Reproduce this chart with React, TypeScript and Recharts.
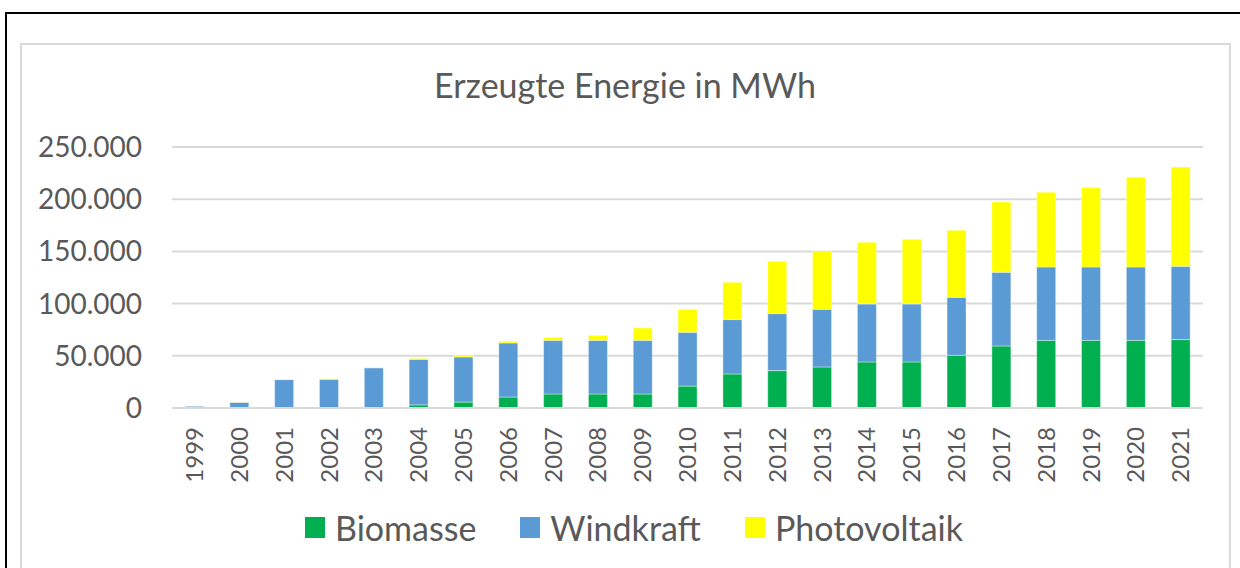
import { Bar, BarChart, CartesianGrid, Legend, XAxis, YAxis } from "recharts";

const years = [
  "1999", "2000", "2001", "2002", "2003", "2004", "2005", "2006", "2007", "2008", "2009", "2010",
  "2011", "2012", "2013", "2014", "2015", "2016", "2017", "2018", "2019", "2020", "2021",
];
const biomasse = [
  0, 0, 0, 0, 0, 3000, 5700, 10500, 13400, 13400, 13400, 21000,
  32600, 35800, 39300, 44100, 44100, 50500, 59400, 64800, 64800, 64800, 65500,
];
const windkraft = [
  1600, 5500, 27200, 27500, 38500, 43600, 43200, 51800, 51400, 51400, 51400, 51500,
  52100, 54600, 55200, 55500, 55500, 55500, 70600, 70300, 70300, 70300, 70200,
];
const photovoltaik = [
  0, 200, 300, 600, 300, 1000, 1300, 1600, 2900, 4800, 11800, 22000,
  35700, 50100, 55900, 59100, 62000, 64200, 67300, 71500, 76000, 85900, 95100,
];
const yTicks = [0, 50000, 100000, 150000, 200000, 250000];

const series = [
  { key: "Biomasse", color: "#00B050" },
  { key: "Windkraft", color: "#5B9BD5" },
  { key: "Photovoltaik", color: "#FFFF00" },
];

const chartData = years.map((year, i) => ({
  year,
  Biomasse: biomasse[i],
  Windkraft: windkraft[i],
  Photovoltaik: photovoltaik[i],
}));

const FONT = "Lato, 'Open Sans', sans-serif";
const TEXT = "#595959";

// thousands separator with a dot, like the German original
const fmt = (v: number) => String(v).replace(/\B(?=(\d{3})+(?!\d))/g, ".");

function YearTick({ x, y, payload }: any) {
  return (
    <g transform={`translate(${x},${y})`}>
      <text
        transform="rotate(-90)"
        x={-19}
        y={0}
        dy="0.36em"
        textAnchor="end"
        fill={TEXT}
        fontSize={24}
        fontFamily={FONT}
      >
        {payload.value}
      </text>
    </g>
  );
}

function LegendBox() {
  return (
    <div
      style={{
        height: 40,
        display: "flex",
        alignItems: "center",
        justifyContent: "center",
        paddingLeft: 28,
        fontFamily: FONT,
        fontSize: 34,
        color: TEXT,
      }}
    >
      {series.map((s, i) => (
        <div key={s.key} style={{ display: "flex", alignItems: "center", marginLeft: i ? 44 : 0 }}>
          <span style={{ width: 20, height: 21, background: s.color, marginRight: 10, display: "inline-block" }} />
          <span>{s.key}</span>
        </div>
      ))}
    </div>
  );
}

export default function App() {
  return (
    <div
      style={{
        position: "absolute",
        left: 0,
        top: 0,
        width: 1240,
        height: 568,
        overflow: "hidden",
        background: "#fff",
      }}
    >
      {/* page frame */}
      <div
        style={{
          position: "absolute",
          left: 5,
          top: 12,
          width: 1300,
          height: 700,
          borderLeft: "2px solid #000",
          borderTop: "2px solid #000",
        }}
      />
      {/* chart area border */}
      <div
        style={{
          position: "absolute",
          left: 20,
          top: 43,
          width: 1207,
          height: 700,
          border: "2px solid #d9d9d9",
        }}
      />
      <div
        style={{
          position: "absolute",
          left: 0,
          top: 65,
          width: 1250,
          textAlign: "center",
          fontFamily: FONT,
          fontSize: 34,
          lineHeight: "40px",
          color: TEXT,
        }}
      >
        Erzeugte Energie in MWh
      </div>
      <div style={{ position: "absolute", left: 0, top: 0 }}>
        <BarChart
          width={1240}
          height={568}
          data={chartData}
          margin={{ top: 147, right: 37, bottom: 21, left: 0 }}
          barSize={19}
        >
          <CartesianGrid vertical={false} stroke="#d9d9d9" strokeWidth={2} />
          <XAxis
            dataKey="year"
            height={99}
            axisLine={{ stroke: "#d9d9d9", strokeWidth: 2 }}
            tickLine={false}
            tickSize={0}
            tickMargin={0}
            interval={0}
            tick={<YearTick />}
          />
          <YAxis
            width={172}
            domain={[0, 250000]}
            ticks={yTicks}
            tickFormatter={fmt}
            axisLine={false}
            tickLine={false}
            tickSize={0}
            tickMargin={30}
            tick={{ fill: TEXT, fontSize: 28, fontFamily: FONT }}
          />
          <Legend
            verticalAlign="bottom"
            wrapperStyle={{ left: 0, width: 1240 }}
            content={<LegendBox />}
          />
          {series.map((s) => (
            <Bar
              key={s.key}
              dataKey={s.key}
              stackId="a"
              fill={s.color}
              stroke="#ffffff"
              strokeOpacity={0.5}
              strokeWidth={0.75}
              isAnimationActive={false}
            />
          ))}
        </BarChart>
      </div>
    </div>
  );
}
